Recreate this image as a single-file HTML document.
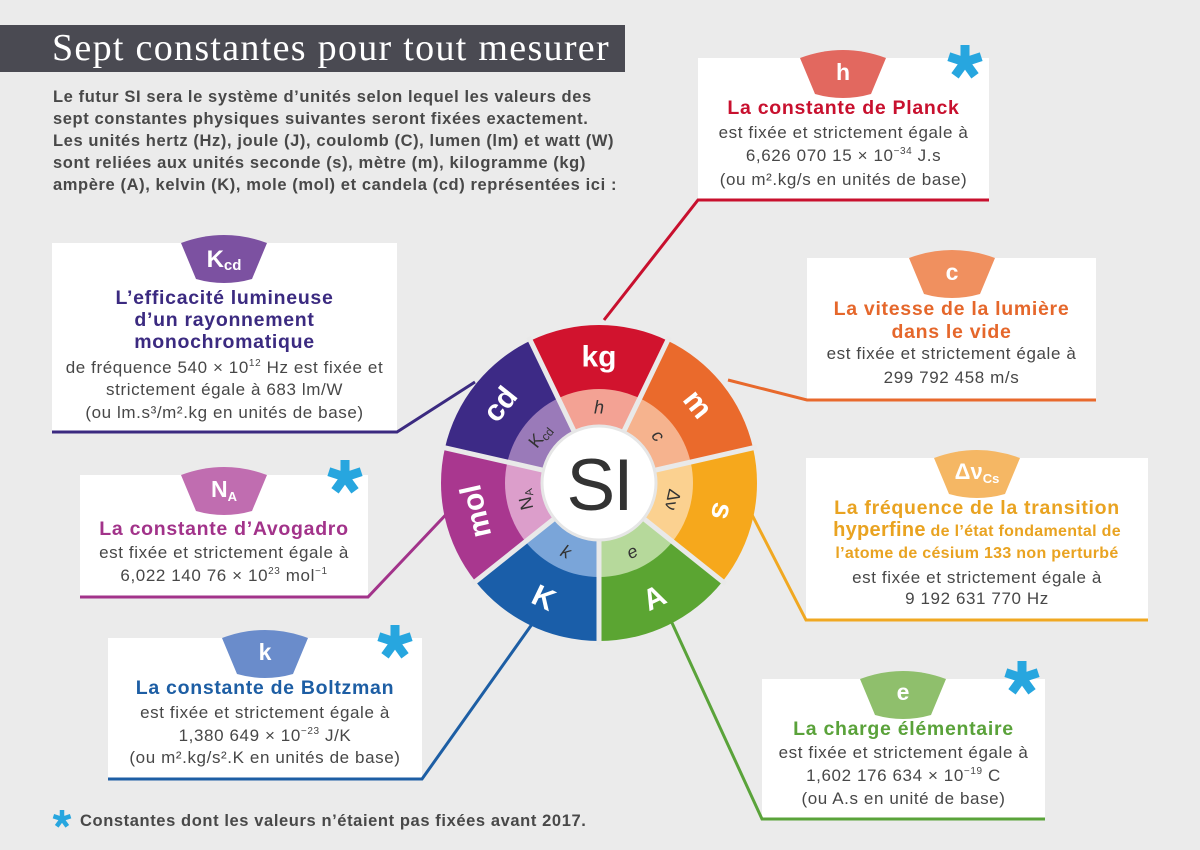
<!DOCTYPE html>
<html><head><meta charset="utf-8"><style>
html,body{margin:0;padding:0;background:#ebebeb;}
svg{display:block;}
</style></head><body>
<svg width="1200" height="850" viewBox="0 0 1200 850" xmlns="http://www.w3.org/2000/svg" font-family="'Liberation Sans', 'DejaVu Sans', sans-serif">
<rect width="1200" height="850" fill="#ebebeb"/>
<!-- Title -->
<rect x="0" y="25" width="625" height="47" fill="#4a4a52"/>
<text x="52" y="60" font-family="'Liberation Serif', serif" font-size="38" fill="#ffffff" letter-spacing="1.3">Sept constantes pour tout mesurer</text>
<g font-size="16.5" font-weight="bold" fill="#484848" letter-spacing="0.6">
<text x="53" y="102">Le futur SI sera le système d’unités selon lequel les valeurs des</text>
<text x="53" y="124">sept constantes physiques suivantes seront fixées exactement.</text>
<text x="53" y="146">Les unités hertz (Hz), joule (J), coulomb (C), lumen (lm) et watt (W)</text>
<text x="53" y="168">sont reliées aux unités seconde (s), mètre (m), kilogramme (kg)</text>
<text x="53" y="190">ampère (A), kelvin (K), mole (mol) et candela (cd) représentées ici :</text>
</g>

<!-- Boxes -->
<g fill="#ffffff">
<rect x="698" y="58" width="291" height="142"/>
<rect x="52" y="243" width="345" height="189"/>
<rect x="80" y="475" width="288" height="122"/>
<rect x="108" y="638" width="314" height="141"/>
<rect x="807" y="258" width="289" height="142"/>
<rect x="806" y="458" width="342" height="162"/>
<rect x="762" y="679" width="283" height="140"/>
</g>

<!-- Connector lines -->
<g fill="none" stroke-width="3" stroke-linejoin="miter">
<polyline points="604,320 698,200 989,200" stroke="#c8102e"/>
<polyline points="728,380 807,400 1096,400" stroke="#e8692c"/>
<polyline points="748,507 806,620 1148,620" stroke="#f0a822"/>
<polyline points="667,612 762,819 1045,819" stroke="#5aa33a"/>
<polyline points="535,620 422,779 108,779" stroke="#1d5ea4"/>
<polyline points="455,505 368,597 80,597" stroke="#a2338a"/>
<polyline points="475,382 397,432 52,432" stroke="#3b2a80"/>
</g>

<!-- Tabs -->
<path d="M800 58 Q843 42 886 58 L871 94 Q843 102 815 94 Z" fill="#e2685f"/>
<path d="M181 243 Q224 227 267 243 L252 279 Q224 287 196 279 Z" fill="#7c51a1"/>
<path d="M181 475 Q224 459 267 475 L252 511 Q224 519 196 511 Z" fill="#c06db0"/>
<path d="M222 638 Q265 622 308 638 L293 674 Q265 682 237 674 Z" fill="#6a8ccb"/>
<path d="M909 258 Q952 242 995 258 L980 294 Q952 302 924 294 Z" fill="#f0905f"/>
<path d="M934 458 Q977 442 1020 458 L1005 494 Q977 502 949 494 Z" fill="#f5b764"/>
<path d="M860 679 Q903 663 946 679 L931 715 Q903 723 875 715 Z" fill="#8fbf6c"/>

<g fill="#ffffff" font-weight="bold" text-anchor="middle" font-size="23">
<text x="843" y="80">h</text>
<text x="224" y="267"><tspan font-size="24">K</tspan><tspan font-size="15" dy="3">cd</tspan></text>
<text x="224" y="497"><tspan>N</tspan><tspan font-size="13" dy="4">A</tspan></text>
<text x="265" y="660">k</text>
<text x="952" y="280">c</text>
<text x="977" y="479"><tspan font-size="22">Δν</tspan><tspan font-size="13" dy="4">Cs</tspan></text>
<text x="903" y="700">e</text>
</g>

<!-- Asterisks -->
<g stroke="#27a6df" stroke-width="9" fill="none">
<path transform="translate(965,62)" d="M0 0 L0 -17 M0 0 L16.2 -5.3 M0 0 L10 13.8 M0 0 L-10 13.8 M0 0 L-16.2 -5.3"/>
<path transform="translate(345,477)" d="M0 0 L0 -17 M0 0 L16.2 -5.3 M0 0 L10 13.8 M0 0 L-10 13.8 M0 0 L-16.2 -5.3"/>
<path transform="translate(395,642)" d="M0 0 L0 -17 M0 0 L16.2 -5.3 M0 0 L10 13.8 M0 0 L-10 13.8 M0 0 L-16.2 -5.3"/>
<path transform="translate(1022,678)" d="M0 0 L0 -17 M0 0 L16.2 -5.3 M0 0 L10 13.8 M0 0 L-10 13.8 M0 0 L-16.2 -5.3"/>
<path transform="translate(62,819)" stroke-width="4.5" d="M0 0 L0 -9 M0 0 L8.6 -2.8 M0 0 L5.3 7.3 M0 0 L-5.3 7.3 M0 0 L-8.6 -2.8"/>
</g>

<!-- Box texts -->
<g text-anchor="middle" font-weight="bold" font-size="19.5" letter-spacing="0.7">
<text x="843.5" y="114" fill="#c8102e">La constante de Planck</text>
<text x="224.5" y="304" fill="#3b2a80">L’efficacité lumineuse</text>
<text x="224.5" y="326" fill="#3b2a80">d’un rayonnement</text>
<text x="224.5" y="348" fill="#3b2a80">monochromatique</text>
<text x="224" y="535" fill="#a2338a">La constante d’Avogadro</text>
<text x="265" y="694" fill="#1d5ea4">La constante de Boltzman</text>
<text x="951.5" y="315" fill="#e5672b">La vitesse de la lumière</text>
<text x="951.5" y="338" fill="#e5672b">dans le vide</text>
<text x="977" y="514" fill="#e9a321">La fréquence de la transition</text>
<text x="977" y="536" fill="#e9a321" letter-spacing="0.3"><tspan font-size="20">hyperfine</tspan><tspan font-size="16"> de l’état fondamental de</tspan></text>
<text x="977" y="558" fill="#e9a321" font-size="16" letter-spacing="0.3">l’atome de césium 133 non perturbé</text>
<text x="903.5" y="735" fill="#5aa23a">La charge élémentaire</text>
</g>

<g text-anchor="middle" font-size="17" letter-spacing="0.6" fill="#474747">
<text x="843.5" y="138">est fixée et strictement égale à</text>
<text x="843.5" y="161">6,626 070 15 × 10<tspan font-size="10" dy="-7">−34</tspan><tspan dy="7"> J.s</tspan></text>
<text x="843.5" y="185">(ou m².kg/s en unités de base)</text>

<text x="224.5" y="373">de fréquence 540 × 10<tspan font-size="10" dy="-7">12</tspan><tspan dy="7"> Hz est fixée et</tspan></text>
<text x="224.5" y="395">strictement égale à 683 lm/W</text>
<text x="224.5" y="418">(ou lm.s³/m².kg en unités de base)</text>

<text x="224" y="558">est fixée et strictement égale à</text>
<text x="224" y="581">6,022 140 76 × 10<tspan font-size="10" dy="-7">23</tspan><tspan dy="7"> mol</tspan><tspan font-size="10" dy="-7">−1</tspan></text>

<text x="265" y="718">est fixée et strictement égale à</text>
<text x="265" y="741">1,380 649 × 10<tspan font-size="10" dy="-7">−23</tspan><tspan dy="7"> J/K</tspan></text>
<text x="265" y="763">(ou m².kg/s².K en unités de base)</text>

<text x="951.5" y="359">est fixée et strictement égale à</text>
<text x="951.5" y="383">299 792 458 m/s</text>

<text x="977" y="583">est fixée et strictement égale à</text>
<text x="977" y="604">9 192 631 770 Hz</text>

<text x="903.5" y="758">est fixée et strictement égale à</text>
<text x="903.5" y="781">1,602 176 634 × 10<tspan font-size="10" dy="-7">−19</tspan><tspan dy="7"> C</tspan></text>
<text x="903.5" y="804">(ou A.s en unité de base)</text>
</g>

<text x="80" y="826" font-size="16.5" font-weight="bold" fill="#484848" letter-spacing="0.6">Constantes dont les valeurs n’étaient pas fixées avant 2017.</text>

<!-- Wheel -->
<g>
<path d="M599 483 L530.45 340.65 A158 158 0 0 1 667.55 340.65 Z" fill="#d1132e"/>
<path d="M599 483 L667.55 340.65 A158 158 0 0 1 753.04 447.84 Z" fill="#ea6a2c"/>
<path d="M599 483 L753.04 447.84 A158 158 0 0 1 722.53 581.51 Z" fill="#f6a81c"/>
<path d="M599 483 L722.53 581.51 A158 158 0 0 1 599 641 Z" fill="#5ba532"/>
<path d="M599 483 L599 641 A158 158 0 0 1 475.47 581.51 Z" fill="#1a5ea9"/>
<path d="M599 483 L475.47 581.51 A158 158 0 0 1 444.96 447.84 Z" fill="#a9378f"/>
<path d="M599 483 L444.96 447.84 A158 158 0 0 1 530.45 340.65 Z" fill="#3d2a86"/>

<path d="M599 483 L558.22 398.31 A94 94 0 0 1 639.78 398.31 Z" fill="#f3a294"/>
<path d="M599 483 L639.78 398.31 A94 94 0 0 1 690.64 462.08 Z" fill="#f6b38e"/>
<path d="M599 483 L690.64 462.08 A94 94 0 0 1 672.49 541.61 Z" fill="#fbd190"/>
<path d="M599 483 L672.49 541.61 A94 94 0 0 1 599 577 Z" fill="#b6d99b"/>
<path d="M599 483 L599 577 A94 94 0 0 1 525.51 541.61 Z" fill="#7aa5d9"/>
<path d="M599 483 L525.51 541.61 A94 94 0 0 1 507.36 462.08 Z" fill="#dc9ecb"/>
<path d="M599 483 L507.36 462.08 A94 94 0 0 1 558.22 398.31 Z" fill="#9a7ab9"/>

<g stroke="#e9e9e9" stroke-width="5">
<line x1="599" y1="483" x2="669.29" y2="337.04"/>
<line x1="599" y1="483" x2="756.94" y2="446.95"/>
<line x1="599" y1="483" x2="725.66" y2="584.01"/>
<line x1="599" y1="483" x2="599" y2="645"/>
<line x1="599" y1="483" x2="472.34" y2="584.01"/>
<line x1="599" y1="483" x2="441.06" y2="446.95"/>
<line x1="599" y1="483" x2="528.71" y2="337.04"/>
</g>
<circle cx="599" cy="483" r="57" fill="#ffffff" stroke="#e6e6e6" stroke-width="3"/>
<text x="599" y="510" text-anchor="middle" font-size="73" fill="#333333" letter-spacing="-2">SI</text>

<g fill="#ffffff" font-weight="bold" font-size="30" text-anchor="middle">
<text transform="translate(599,356)" dy="0.35em">kg</text>
<text transform="translate(698.3,403.8) rotate(51.43)" dy="0.35em">m</text>
<text transform="translate(722.8,511.3) rotate(102.86)" dy="0.35em">s</text>
<text transform="translate(654.1,597.4) rotate(-25.71)" dy="0.35em">A</text>
<text transform="translate(543.9,597.4) rotate(25.71)" dy="0.35em">K</text>
<text transform="translate(475.2,511.3) rotate(-102.86)" dy="0.35em">mol</text>
<text transform="translate(499.7,403.8) rotate(-51.43)" dy="0.35em">cd</text>
</g>
<g fill="#333333" font-size="18" text-anchor="middle">
<text transform="translate(599,407)" dy="0.35em" font-style="italic">h</text>
<text transform="translate(658.4,435.6) rotate(51.43)" dy="0.35em" font-style="italic">c</text>
<text transform="translate(673.1,499.9) rotate(102.86)" dy="0.35em">Δν</text>
<text transform="translate(632,551.5) rotate(-25.71)" dy="0.35em" font-style="italic">e</text>
<text transform="translate(566,551.5) rotate(25.71)" dy="0.35em" font-style="italic">k</text>
<text transform="translate(524.9,499.9) rotate(-102.86)" dy="0.35em">N<tspan font-size="11" dy="3">A</tspan></text>
<text transform="translate(539.6,435.6) rotate(-51.43)" dy="0.35em">K<tspan font-size="12" dy="3">cd</tspan></text>
</g>
</g>
</svg>
</body></html>
